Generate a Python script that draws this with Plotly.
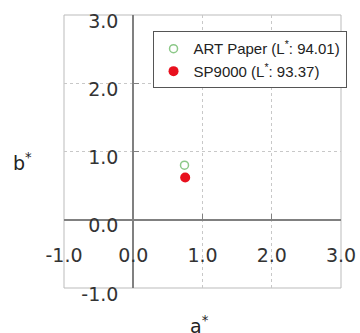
import plotly.graph_objects as go

series_names = ["ART Paper (L<sup>*</sup>: 94.01)", "SP9000 (L<sup>*</sup>: 93.37)"]
a_values = [0.74, 0.75]
b_values = [0.80, 0.62]
tick_vals = [-1, 0, 1, 2, 3]
tick_text = ["-1.0", "0.0", "1.0", "2.0", "3.0"]

fig = go.Figure()
fig.add_trace(go.Scatter(x=[a_values[0]], y=[b_values[0]], mode="markers", name=series_names[0],
                         marker=dict(size=8, color="white", line=dict(color="#8cc888", width=1.5))))
fig.add_trace(go.Scatter(x=[a_values[1]], y=[b_values[1]], mode="markers", name=series_names[1],
                         marker=dict(size=10, color="#e8101e", line=dict(width=0))))

tickfont = dict(family="DejaVu Sans", size=19, color="#333")
axis_common = dict(range=[-1, 3], tickvals=tick_vals, ticktext=tick_text, showgrid=True,
                   gridcolor="#c8c8c8", griddash="dot", gridwidth=1, zeroline=False,
                   showline=True, linecolor="#808080", linewidth=2, ticks="inside",
                   ticklen=5, tickcolor="#808080", tickfont=tickfont, automargin=False,
                   anchor="free", position=0.25, ticklabeloverflow="allow")
fig.update_layout(
    width=360, height=333,
    margin=dict(l=64, r=19, t=15, b=45),
    paper_bgcolor="white", plot_bgcolor="white",
    xaxis=dict(**axis_common, ticklabelstandoff=18),
    yaxis=dict(**axis_common, ticklabelstandoff=10, ticklabelshift=6),
    showlegend=True,
    legend=dict(x=1.02, y=0.94, xanchor="right", yanchor="top", bordercolor="#555",
                borderwidth=1, bgcolor="white", font=dict(family="Liberation Sans", size=15, color="#222"),
                itemwidth=30),
    shapes=[dict(type="rect", xref="paper", yref="paper", x0=0, y0=0, x1=1, y1=1,
                 line=dict(color="#bbbbbb", width=1), layer="below")],
    annotations=[
        dict(text="b<sup>*</sup>", xref="paper", yref="paper", x=-0.15, y=0.46,
             xanchor="center", yanchor="middle", showarrow=False,
             font=dict(family="DejaVu Sans", size=19, color="#222")),
        dict(text="a<sup>*</sup>", xref="paper", yref="paper", x=0.49, y=-0.135,
             xanchor="center", yanchor="middle", showarrow=False,
             font=dict(family="DejaVu Sans", size=19, color="#222")),
    ],
)
fig.write_html("out.html", config={"displayModeBar": False},
               post_script="document.body.style.margin='0';document.body.style.overflow='hidden';")
